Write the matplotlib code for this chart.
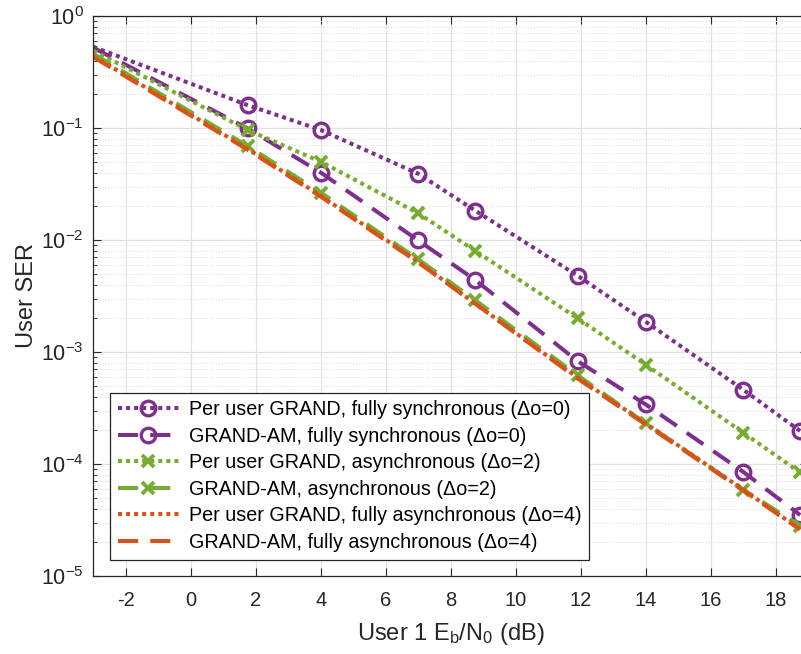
import matplotlib
matplotlib.use("Agg")
import matplotlib.pyplot as plt
from matplotlib.ticker import LogLocator, FixedLocator, NullFormatter

plt.rcParams['font.family'] = ['Liberation Sans', 'DejaVu Sans']
plt.rcParams['mathtext.fontset'] = 'custom'
plt.rcParams['mathtext.rm'] = 'Liberation Sans'
plt.rcParams['mathtext.it'] = 'Liberation Sans'
plt.rcParams['axes.unicode_minus'] = False

# Eb/N0 points (dB)
ebn0 = [-3, 1.75, 4, 7, 8.75, 11.9, 14, 17, 18.75]

# user SER
ser_pu_sync = [0.53, 0.16, 0.096, 0.039, 0.0183, 0.0048, 0.00186, 4.6e-4, 1.97e-4]
ser_am_sync = [0.52, 0.099, 0.040, 0.0099, 0.0044, 8.3e-4, 3.4e-4, 8.5e-5, 3.5e-5]
ser_pu_async2 = [0.49, 0.096, 0.050, 0.0173, 0.0080, 0.0020, 7.7e-4, 1.9e-4, 8.4e-5]
ser_am_async2 = [0.46, 0.069, 0.0265, 0.0067, 0.0029, 6.2e-4, 2.3e-4, 5.9e-5, 2.8e-5]
ser_pu_async4 = [0.44, 0.065, 0.0248, 0.0064, 0.0027, 5.9e-4, 2.3e-4, 5.9e-5, 2.6e-5]
ser_am_async4 = [0.43, 0.064, 0.0244, 0.0063, 0.0027, 5.8e-4, 2.25e-4, 5.8e-5, 2.6e-5]

labels = ['Per user GRAND, fully synchronous (Δo=0)',
          'GRAND-AM, fully synchronous (Δo=0)',
          'Per user GRAND, asynchronous (Δo=2)',
          'GRAND-AM, asynchronous (Δo=2)',
          'Per user GRAND, fully asynchronous (Δo=4)',
          'GRAND-AM, fully asynchronous (Δo=4)']

purple = '#7E2F8E'
green = '#77AC30'
orange = '#D95319'
dark = '#262626'

fig = plt.figure(figsize=(8.01, 6.54), dpi=100)
ax = fig.add_axes([93.3/801, 1-576/654, 715/801, 560/654])

lw = 2.9
dot = (0, (1, 1))
dash = (0, (5, 3))
mk = range(1, 9)
ax.plot(ebn0, ser_pu_sync, color=purple, ls=dot, lw=lw, marker='o', ms=10.5, mew=2.4, mfc='none', markevery=mk, label=labels[0])
ax.plot(ebn0, ser_am_sync, color=purple, ls=dash, lw=lw, marker='o', ms=10.5, mew=2.4, mfc='none', markevery=mk, label=labels[1])
ax.plot(ebn0, ser_pu_async2, color=green, ls=dot, lw=lw, marker='x', ms=8.5, mew=2.8, markevery=mk, label=labels[2])
ax.plot(ebn0, ser_am_async2, color=green, ls=dash, lw=lw, marker='x', ms=8.5, mew=2.8, markevery=mk, label=labels[3])
ax.plot(ebn0, ser_pu_async4, color=orange, ls=dot, lw=lw, label=labels[4])
ax.plot(ebn0, ser_am_async4, color=orange, ls=dash, lw=lw, label=labels[5])

ax.set_yscale('log')
ax.set_xlim(-3, 19)
ax.set_ylim(1e-5, 1)
ax.xaxis.set_major_locator(FixedLocator(range(-2, 19, 2)))
ax.yaxis.set_major_locator(LogLocator(base=10, numticks=10))
ax.yaxis.set_minor_locator(LogLocator(base=10, subs=range(2, 10), numticks=20))
ax.yaxis.set_minor_formatter(NullFormatter())

ax.grid(True, which='major', color='#E2E2E2', lw=0.9)
ax.grid(True, which='minor', axis='y', color='#D8D8D8', lw=0.7, ls=(0, (1, 2)))
ax.set_axisbelow(True)

for s in ax.spines.values():
    s.set_color(dark)
    s.set_linewidth(0.9)
ax.tick_params(which='both', direction='in', top=True, right=True, colors=dark, labelsize=14.5)
ax.tick_params(axis='y', labelsize=15.5, pad=7)
ax.tick_params(which='major', length=6)
ax.tick_params(which='minor', length=3)
ax.tick_params(axis='x', pad=11)

ax.set_xlabel('User 1 E$_\\mathregular{b}$/N$_\\mathregular{0}$ (dB)', fontsize=17, color=dark, labelpad=8)
ax.set_ylabel('User SER', fontsize=17, color=dark, labelpad=2)

leg = ax.legend(loc='lower left', bbox_to_anchor=(0.023, 0.029), borderaxespad=0,
                fontsize=14.2, handlelength=3.1, numpoints=1, fancybox=False,
                framealpha=1, edgecolor=dark, labelspacing=0.38, handletextpad=0.5,
                borderpad=0.4)
leg.get_frame().set_linewidth(0.9)

fig.savefig('out.png', dpi=100)
